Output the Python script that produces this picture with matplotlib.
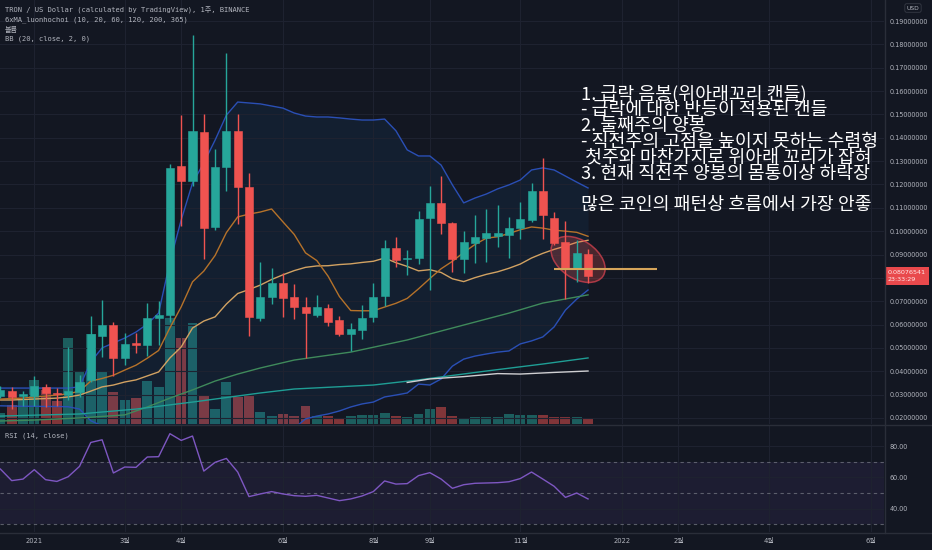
import numpy as np
import matplotlib
matplotlib.use("Agg")
import matplotlib.pyplot as plt
import matplotlib.transforms as mtransforms
from matplotlib.patches import Ellipse
from matplotlib.lines import Line2D

plt.rcParams['font.family'] = ['DejaVu Sans', 'Noto Sans CJK KR']

BG = '#131722'
GRID = '#1e2230'
TXT = '#b2b5be'
UP = '#26a69a'
DOWN = '#ef5350'

# week index, 0 = week of 2021-01-04
weeks = np.arange(-3, 50)

opens = [0.0292, 0.0314, 0.0293, 0.0296, 0.0332, 0.0309, 0.0299, 0.0313, 0.0364, 0.0549,
         0.0599, 0.0456, 0.0520, 0.0513, 0.0630, 0.0641, 0.1279, 0.1215, 0.1424, 0.1019,
         0.1276, 0.1430, 0.1191, 0.0627, 0.0720, 0.0777, 0.0716, 0.0677, 0.0641, 0.0670,
         0.0620, 0.0560, 0.0577, 0.0634, 0.0723, 0.0930, 0.0880, 0.0887, 0.1055, 0.1122,
         0.1034, 0.0880, 0.0948, 0.0970, 0.0981, 0.0984, 0.1013, 0.1048, 0.1170, 0.1058,
         0.0955, 0.0839, 0.0902]
highs = [0.0335, 0.0331, 0.0316, 0.0378, 0.0345, 0.0330, 0.0506, 0.0384, 0.0637, 0.0706,
         0.0610, 0.0563, 0.0563, 0.0692, 0.0699, 0.1288, 0.1498, 0.1840, 0.1501, 0.1351,
         0.1764, 0.1502, 0.1248, 0.0866, 0.0842, 0.0820, 0.0773, 0.0720, 0.0726, 0.0687,
         0.0638, 0.0606, 0.0684, 0.0777, 0.0962, 0.0977, 0.0920, 0.1088, 0.1194, 0.1237,
         0.1040, 0.1001, 0.1069, 0.1094, 0.1110, 0.1062, 0.1127, 0.1205, 0.1312, 0.1084,
         0.1045, 0.0962, 0.0924]
lows = [0.0285, 0.0238, 0.0252, 0.0250, 0.0245, 0.0250, 0.0278, 0.0291, 0.0355, 0.0460,
        0.0378, 0.0428, 0.0477, 0.0466, 0.0513, 0.0613, 0.1024, 0.1195, 0.0880, 0.1003,
        0.1170, 0.1031, 0.0551, 0.0616, 0.0689, 0.0634, 0.0624, 0.0458, 0.0632, 0.0592,
        0.0549, 0.0487, 0.0539, 0.0613, 0.0680, 0.0846, 0.0813, 0.0860, 0.0749, 0.0987,
        0.0827, 0.0820, 0.0863, 0.0870, 0.0934, 0.0884, 0.0966, 0.1040, 0.0966, 0.0940,
        0.0710, 0.0784, 0.0777]
closes = [0.0318, 0.0291, 0.0303, 0.0335, 0.0309, 0.0302, 0.0316, 0.0356, 0.0559, 0.0599,
          0.0456, 0.0516, 0.0514, 0.0630, 0.0641, 0.1272, 0.1215, 0.1430, 0.1012, 0.1276,
          0.1430, 0.1191, 0.0634, 0.0717, 0.0777, 0.0713, 0.0675, 0.0649, 0.0675, 0.0613,
          0.0560, 0.0582, 0.0630, 0.0720, 0.0930, 0.0877, 0.0887, 0.1051, 0.1122, 0.1034,
          0.0880, 0.0954, 0.0977, 0.0991, 0.0991, 0.1013, 0.1051, 0.1170, 0.1069, 0.0948,
          0.0839, 0.0905, 0.08076541]
volumes = [1.10, 1.87, 2.40, 4.40, 3.40, 2.27, 8.56, 5.27, 9.00, 5.20,
           3.17, 2.37, 2.60, 4.27, 3.70, 10.63, 8.56, 10.13, 2.87, 1.53,
           4.20, 2.70, 2.83, 1.20, 0.83, 1.03, 0.83, 1.77, 0.83, 0.83,
           0.57, 0.77, 0.93, 0.90, 1.10, 0.77, 0.67, 1.03, 1.50, 1.67,
           0.83, 0.50, 0.73, 0.73, 0.70, 1.03, 0.87, 0.87, 0.87, 0.73,
           0.73, 0.73, 0.53]

ma10 = [0.0281, 0.0283, 0.0285, 0.0290, 0.0294, 0.0298, 0.0303, 0.0315, 0.0358, 0.0369,
        0.0383, 0.0405, 0.0426, 0.0456, 0.0489, 0.0586, 0.0676, 0.0783, 0.0829, 0.0896,
        0.0994, 0.1061, 0.1073, 0.1082, 0.1095, 0.1040, 0.0986, 0.0907, 0.0874, 0.0807,
        0.0720, 0.0660, 0.0659, 0.0659, 0.0675, 0.0691, 0.0712, 0.0753, 0.0797, 0.0839,
        0.0871, 0.0909, 0.0943, 0.0970, 0.0976, 0.0990, 0.1006, 0.1018, 0.1013, 0.1004,
        0.1000, 0.0995, 0.0978]
ma20 = [0.0277, 0.0277, 0.0279, 0.0281, 0.0283, 0.0285, 0.0290, 0.0298, 0.0315, 0.0333,
        0.0341, 0.0354, 0.0363, 0.0380, 0.0397, 0.0457, 0.0504, 0.0585, 0.0615, 0.0633,
        0.0688, 0.0733, 0.0750, 0.0769, 0.0793, 0.0813, 0.0831, 0.0845, 0.0851, 0.0852,
        0.0857, 0.0860, 0.0866, 0.0871, 0.0885, 0.0865, 0.0849, 0.0830, 0.0835, 0.0823,
        0.0796, 0.0784, 0.0801, 0.0815, 0.0826, 0.0841, 0.0859, 0.0885, 0.0905, 0.0922,
        0.0936, 0.0952, 0.0961]
bb_upper = [0.0328, 0.0328, 0.0328, 0.0328, 0.0328, 0.0328, 0.0328, 0.0333, 0.0440, 0.0500,
            0.0521, 0.0542, 0.0568, 0.0602, 0.0649, 0.0868, 0.1048, 0.1206, 0.1292, 0.1390,
            0.1497, 0.1553, 0.1549, 0.1545, 0.1536, 0.1527, 0.1506, 0.1493, 0.1489, 0.1489,
            0.1485, 0.1480, 0.1476, 0.1476, 0.1480, 0.1430, 0.1348, 0.1322, 0.1322, 0.1283,
            0.1198, 0.1121, 0.1142, 0.1159, 0.1181, 0.1198, 0.1219, 0.1262, 0.1271, 0.1262,
            0.1236, 0.1210, 0.1185]
nan = np.nan
bb_lower = [0.0252, 0.0251, 0.0250, 0.0250, 0.0249, 0.0249, 0.0248, 0.0238, 0.0188, 0.0166,
            nan, nan, nan, nan, nan, nan, nan, nan, nan, nan,
            nan, nan, nan, nan, nan, 0.0099, 0.0156, 0.0196, 0.0208, 0.0217,
            0.0230, 0.0247, 0.0260, 0.0268, 0.0290, 0.0298, 0.0307, 0.0345, 0.0341, 0.0367,
            0.0422, 0.0452, 0.0465, 0.0474, 0.0482, 0.0487, 0.0517, 0.0530, 0.0547, 0.0590,
            0.0662, 0.0709, 0.0748]

ma60_weeks = [-3, 0, 4, 8, 10, 12, 14, 16, 18, 20, 23, 28, 33, 38, 42, 45, 49]
ma60 = [0.0187, 0.0191, 0.0200, 0.0213, 0.0247, 0.0285, 0.0320, 0.0358, 0.0388, 0.0414,
        0.0448, 0.0482, 0.0534, 0.0598, 0.0649, 0.0692, 0.0727]
ma120_weeks = [-3, 4, 9, 14, 18, 20, 23, 30, 34, 40, 45, 49]
ma120 = [0.0208, 0.0217, 0.0238, 0.0268, 0.0294, 0.0307, 0.0324, 0.0341, 0.0363, 0.0401,
         0.0431, 0.0457]
ma200_weeks = [33, 35, 38, 41, 43, 46, 49]
ma200 = [0.0352, 0.0367, 0.0377, 0.0390, 0.0388, 0.0395, 0.0401]

rsi = [65.3, 57.9, 58.9, 64.9, 58.5, 57.4, 60.4, 67.0, 82.3, 84.0,
       62.8, 66.6, 66.4, 73.0, 73.2, 87.9, 83.6, 86.4, 64.0, 69.6,
       72.1, 63.4, 47.7, 49.4, 50.9, 49.4, 48.3, 47.9, 48.5, 46.8,
       45.1, 46.2, 48.1, 50.9, 57.7, 55.7, 56.0, 61.1, 63.0, 58.9,
       53.0, 55.3, 56.2, 56.4, 56.6, 57.2, 59.2, 63.4, 58.9, 54.3,
       47.2, 50.0, 46.2]

tick_weeks = [0, 8, 13, 22, 30, 35, 43, 52, 57, 65, 74]
tick_labels = ['2021', '3월', '4월', '6월', '8월', '9월', '11월', '2022', '2월', '4월', '6월']
price_ticks = np.round(np.arange(0.02, 0.1901, 0.01), 2)

# visible part of the note (the rest runs past the price scale)
notes = ["1. 급락 음봉(위아래꼬리 캔들)",
         "- 급락에 대한 반등이 적용된 캔들",
         "2. 둘째주의 양봉",
         "- 직전주의 고점을 높이지 못하는 수렴형",
         " 첫주와 마찬가지로 위아래 꼬리가 잡혀",
         "3. 현재 직전주 양봉의 몸통이상 하락장",
         "",
         "많은 코인의 패턴상 흐름에서 가장 안좋"]

W, H = 932, 550
fig = plt.figure(figsize=(W / 100, H / 100), dpi=100, facecolor=BG)


def px_box(left, top, right, bottom):
    return [left / W, 1 - bottom / H, (right - left) / W, (bottom - top) / H]


ax = fig.add_axes(px_box(0, 0, 884, 424))
vax = ax.twinx()
ax.set_zorder(vax.get_zorder() + 1)
ax.patch.set_visible(False)
rax = fig.add_axes(px_box(0, 425, 884, 532), sharex=ax)
rax.set_facecolor(BG)

o = np.array(opens)
c = np.array(closes)
colors = [UP if cc >= oo else DOWN for oo, cc in zip(o, c)]

# volume
vax.bar(weeks, volumes, width=0.88, color=colors, alpha=0.5, lw=0)
vax.set_ylim(0, 42.4)
vax.set_axis_off()

# bollinger band fill + lines
ylo, yhi = 0.01741, 0.1990
lower_fill = np.where(np.isnan(bb_lower), ylo - 0.01, bb_lower)
ax.fill_between(weeks, lower_fill, bb_upper, color='#2196f3', alpha=0.07, lw=0, zorder=1)

ax.plot(weeks, bb_upper, color='#2a4fb5', lw=1, zorder=2.2)
ax.plot(weeks, bb_lower, color='#2a4fb5', lw=1, zorder=2.2)
ax.plot(ma60_weeks, ma60, color='#3f8a5b', lw=1, zorder=2.2)
ax.plot(ma120_weeks, ma120, color='#1f9e95', lw=1, zorder=2.2)
ax.plot(ma200_weeks, ma200, color='#cfcfd2', lw=1, zorder=2.2)
ax.plot(weeks, ma20, color='#d2a262', lw=1, zorder=2.2)
ax.plot(weeks, ma10, color='#b5722a', lw=1, zorder=2.2)

# candles on top of indicators
ax.vlines(weeks, lows, highs, colors=colors, lw=1, zorder=3)
ax.bar(weeks, np.abs(c - o), bottom=np.minimum(o, c), width=0.71, color=colors,
       edgecolor=colors, lw=0.4, zorder=3.1)

# annotation: ellipse, level line, notes
ell = Ellipse((0, 0), width=0.60, height=0.38, angle=-34,
              transform=fig.dpi_scale_trans + mtransforms.ScaledTranslation(48.12, 0.0879, ax.transData),
              facecolor=(0.94, 0.33, 0.31, 0.25), edgecolor=(0.80, 0.25, 0.30, 0.8), lw=1.1, zorder=2.5)
ax.add_patch(ell)
ax.hlines(0.0840, 46.0, 55.1, color='#d6a55a', lw=1.5, zorder=6)

ntrans = mtransforms.blended_transform_factory(ax.transData, ax.transAxes)
ax.text(48.42, 1 - 85 / 424, "\n".join(notes), transform=ntrans, ha='left', va='top',
        fontsize=13.2, linespacing=0.845, color='white', family=['Noto Sans CJK KR', 'DejaVu Sans'],
        zorder=7, clip_on=True)

ax.set_xlim(-3.035, 75.19)
ax.set_ylim(ylo, yhi)
ax.set_xticks(tick_weeks)
ax.set_yticks(price_ticks)
# the 0.08 label sits under the last-price tag
ax.set_yticklabels(['' if abs(v - 0.08) < 1e-9 else f'{v:.8f}' for v in price_ticks])
ax.yaxis.tick_right()
ax.tick_params(axis='y', length=0, pad=4, labelsize=4.7, labelcolor=TXT)
ax.tick_params(axis='x', length=0, labelbottom=False)
ax.grid(True, color=GRID, lw=0.8)
for s in ax.spines.values():
    s.set_visible(False)

# last price tag
ptrans = mtransforms.blended_transform_factory(ax.transAxes, ax.transData)
ax.text(1.0 + 4 / 884, closes[-1], "0.08076541\n23:33:29", transform=ptrans, ha='left', va='center',
        fontsize=4.6, color='#ffe9e9', linespacing=1.35, zorder=10, clip_on=False,
        bbox=dict(boxstyle='square,pad=0.45', fc='#e9494c', ec='none'))

# RSI pane
rax.axhspan(30, 70, color='#7e57c2', alpha=0.1, lw=0)
for lvl in (70, 50, 30):
    rax.axhline(lvl, color='#787b86', ls=(0, (3, 3)), lw=0.8, alpha=0.7)
rax.plot(weeks, rsi, color='#7e57c2', lw=1)
rax.set_ylim(25.08, 93.45)
rax.set_yticks([40, 60, 80])
rax.set_yticklabels(['40.00', '60.00', '80.00'])
rax.yaxis.tick_right()
rax.tick_params(axis='y', length=0, pad=4, labelsize=4.7, labelcolor=TXT)
rax.set_xticks(tick_weeks, tick_labels)
rax.tick_params(axis='x', length=0, pad=4, labelsize=4.9, labelcolor=TXT)
rax.grid(True, color=GRID, lw=0.8)
for s in rax.spines.values():
    s.set_visible(False)

# pane separators
sep = '#2a2e39'
fig.add_artist(Line2D([0, 1], [1 - 424.5 / H] * 2, transform=fig.transFigure, color=sep, lw=1))
fig.add_artist(Line2D([0, 1], [1 - 532.5 / H] * 2, transform=fig.transFigure, color=sep, lw=1))
fig.add_artist(Line2D([884.5 / W] * 2, [1 - 532.5 / H, 1], transform=fig.transFigure, color=sep, lw=1))

# legends
mono = ['DejaVu Sans Mono', 'Noto Sans CJK KR']
legend_lines = ["TRON / US Dollar (calculated by TradingView), 1주, BINANCE",
                "6xMA_luonhochoi (10, 20, 60, 120, 200, 365)",
                "볼륨",
                "BB (20, close, 2, 0)"]
for i, t in enumerate(legend_lines):
    fig.text(5 / W, 1 - (10 + i * 9.7) / H, t, ha='left', va='center', fontsize=5.1,
             color=TXT, family=mono)
fig.text(5 / W, 1 - 436 / H, "RSI (14, close)", ha='left', va='center', fontsize=5.1,
         color=TXT, family=mono)
fig.text(913 / W, 1 - 8 / H, "USD", ha='center', va='center', fontsize=4.3, color=TXT,
         bbox=dict(boxstyle='round,pad=0.3', fc=BG, ec='#363a45', lw=0.6))

fig.savefig('out.png', dpi=100, facecolor=BG)
